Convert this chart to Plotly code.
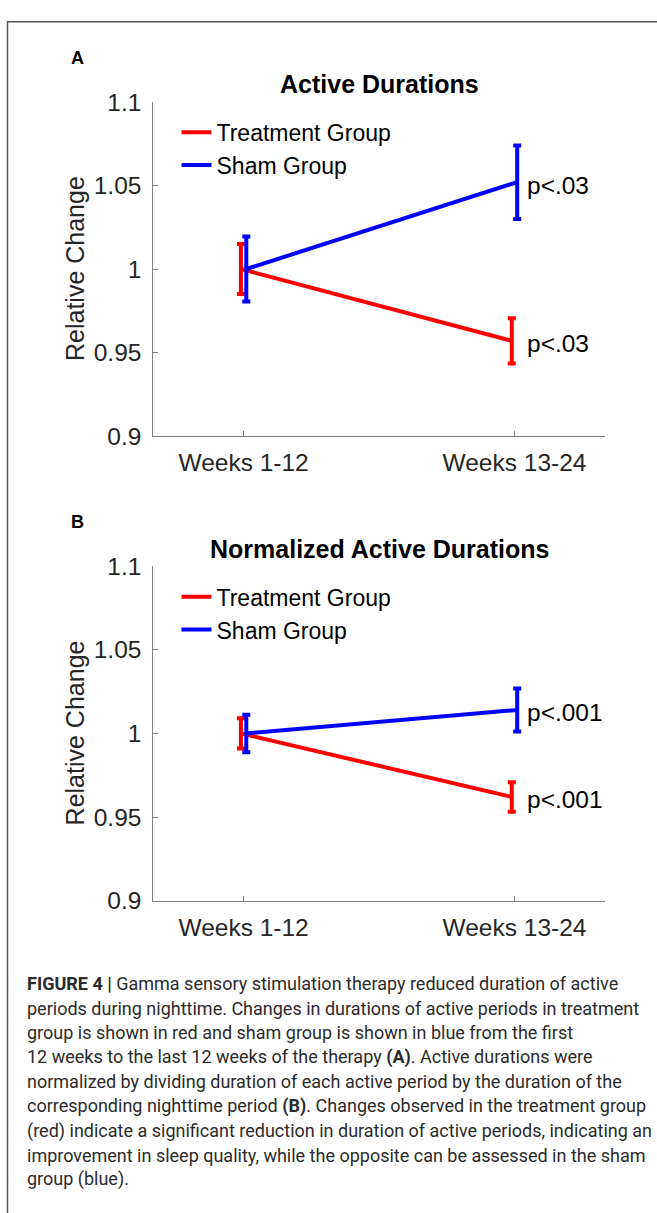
import plotly.graph_objects as go

# ---- data -------------------------------------------------------------
periods = ["Weeks 1-12", "Weeks 13-24"]
period_pos = [1, 2]
group_offset = 0.01  # small horizontal dodge between the two groups

# Panel A: active durations (mean relative change and error half-width)
a_treatment_mean = [1.000, 0.957]
a_treatment_err = [0.015, 0.0135]
a_sham_mean = [1.000, 1.052]
a_sham_err = [0.0195, 0.022]
a_treatment_p = "p<.03"
a_sham_p = "p<.03"

# Panel B: normalized active durations
b_treatment_mean = [1.000, 0.962]
b_treatment_err = [0.009, 0.0088]
b_sham_mean = [1.000, 1.014]
b_sham_err = [0.0112, 0.0128]
b_treatment_p = "p<.001"
b_sham_p = "p<.001"

y_ticks = [0.9, 0.95, 1.0, 1.05, 1.1]
y_tick_labels = ["0.9", "0.95", "1", "1.05", "1.1"]

panel_titles = ["Active Durations", "Normalized Active Durations"]
panel_letters = ["A", "B"]
group_names = ["Treatment Group", "Sham Group"]
group_colors = ["#ff0000", "#0000ff"]

caption_lines = [
    "<b>FIGURE 4 |</b> Gamma sensory stimulation therapy reduced duration of active",
    "periods during nighttime. Changes in durations of active periods in treatment",
    "group is shown in red and sham group is shown in blue from the first",
    "12 weeks to the last 12 weeks of the therapy <b>(A)</b>. Active durations were",
    "normalized by dividing duration of each active period by the duration of the",
    "corresponding nighttime period <b>(B)</b>. Changes observed in the treatment group",
    "(red) indicate a significant reduction in duration of active periods, indicating an",
    "improvement in sleep quality, while the opposite can be assessed in the sham",
    "group (blue).",
]

# ---- page geometry (pixels) ------------------------------------------
W, H = 657, 1213


def px(x):
    return x / W


def py(y):
    return 1 - y / H


AX_LEFT, AX_RIGHT = 153.3, 604.8
PANELS = [
    dict(top=91.0, bottom=432.7, letter_y=46, title_y=73, legend_top=100),
    dict(top=565.7, bottom=907.9, letter_y=521, title_y=548, legend_top=575),
]

FONT = "Liberation Sans, Arial, sans-serif"
TEXT = "#262626"
AXIS = "#808080"
TICK_SIZE = 24.5

fig = go.Figure()

datasets = [
    (a_treatment_mean, a_treatment_err, a_sham_mean, a_sham_err, a_treatment_p, a_sham_p),
    (b_treatment_mean, b_treatment_err, b_sham_mean, b_sham_err, b_treatment_p, b_sham_p),
]

annotations = []
for i, (t_mean, t_err, s_mean, s_err, t_p, s_p) in enumerate(datasets):
    xa = "x" if i == 0 else "x2"
    ya = "y" if i == 0 else "y2"
    lg = "legend" if i == 0 else "legend2"
    series = [
        (group_names[0], group_colors[0], t_mean, t_err, -group_offset, t_p),
        (group_names[1], group_colors[1], s_mean, s_err, group_offset, s_p),
    ]
    for name, color, mean, err, off, ptxt in series:
        fig.add_trace(go.Scatter(
            x=[p + off for p in period_pos], y=mean,
            mode="lines", name=name, legend=lg,
            line=dict(color=color, width=4),
            error_y=dict(type="data", array=err, visible=True,
                         color=color, thickness=4, width=4),
            xaxis=xa, yaxis=ya, hoverinfo="skip",
        ))
        annotations.append(dict(
            x=period_pos[1], y=mean[1], xref=xa, yref=ya,
            text=ptxt, showarrow=False, xanchor="left", yanchor="middle",
            xshift=10, yshift=-3, font=dict(family=FONT, size=24.5, color="#000000"),
        ))

    p = PANELS[i]
    # panel letter and title
    annotations.append(dict(
        x=px(69), y=py(p["letter_y"]), xref="paper", yref="paper",
        text="<b>%s</b>" % panel_letters[i], showarrow=False,
        xanchor="left", yanchor="middle",
        font=dict(family=FONT, size=18, color="#000000"),
    ))
    annotations.append(dict(
        x=px((AX_LEFT + AX_RIGHT) / 2), y=py(p["title_y"]), xref="paper", yref="paper",
        text="<b>%s</b>" % panel_titles[i], showarrow=False,
        xanchor="center", yanchor="middle",
        font=dict(family=FONT, size=25, color="#000000"),
    ))
    # y-axis label
    annotations.append(dict(
        x=px(75), y=py((p["top"] + p["bottom"]) / 2), xref="paper", yref="paper",
        text="Relative Change", textangle=-90, showarrow=False,
        xanchor="center", yanchor="middle",
        font=dict(family=FONT, size=25, color=TEXT),
    ))

# caption
for k, line in enumerate(caption_lines):
    annotations.append(dict(
        x=px(25), y=py(993 + 25 * k), xref="paper", yref="paper",
        text=line, showarrow=False, xanchor="left", yanchor="middle",
        font=dict(family="Roboto, sans-serif", size=18, color="#2b2b2b"),
    ))

xaxis_style = dict(
    range=[0.6667, 2.3333], domain=[px(AX_LEFT), px(AX_RIGHT)],
    tickmode="array", tickvals=period_pos, ticktext=periods,
    ticks="inside", ticklen=5, tickcolor=AXIS, tickwidth=1,
    showline=True, linecolor=AXIS, linewidth=1, showgrid=False, zeroline=False,
    tickfont=dict(family=FONT, size=TICK_SIZE, color=TEXT), ticklabelstandoff=5,
    fixedrange=True,
)
yaxis_style = dict(
    range=[0.9, 1.1], tickmode="array", tickvals=y_ticks, ticktext=y_tick_labels,
    ticks="inside", ticklen=5, tickcolor=AXIS, tickwidth=1,
    showline=True, linecolor=AXIS, linewidth=1, showgrid=False, zeroline=False,
    tickfont=dict(family=FONT, size=TICK_SIZE, color=TEXT), ticklabelstandoff=6,
    fixedrange=True,
)

legend_style = dict(
    xanchor="left", yanchor="top", bgcolor="rgba(0,0,0,0)", borderwidth=0,
    font=dict(family=FONT, size=23, color="#000000"),
    tracegroupgap=0, itemclick=False, itemdoubleclick=False,
)

fig.update_layout(
    width=W, height=H, margin=dict(l=0, r=0, t=0, b=0),
    paper_bgcolor="white", plot_bgcolor="white",
    xaxis=dict(xaxis_style, anchor="y"),
    yaxis=dict(yaxis_style, domain=[py(PANELS[0]["bottom"]), py(PANELS[0]["top"])], anchor="x"),
    xaxis2=dict(xaxis_style, anchor="y2"),
    yaxis2=dict(yaxis_style, domain=[py(PANELS[1]["bottom"]), py(PANELS[1]["top"])], anchor="x2"),
    legend=dict(legend_style, x=px(176.5), y=py(PANELS[0]["legend_top"])),
    legend2=dict(legend_style, x=px(176.5), y=py(PANELS[1]["legend_top"])),
    annotations=annotations,
    showlegend=True,
    shapes=[dict(
        type="rect", xref="paper", yref="paper",
        x0=px(7.5), x1=1.05, y0=-0.05, y1=py(9),
        line=dict(color="#555555", width=1.5), fillcolor="rgba(0,0,0,0)", layer="below",
    )],
)

fig.write_html("out.html", config=dict(displayModeBar=False))
